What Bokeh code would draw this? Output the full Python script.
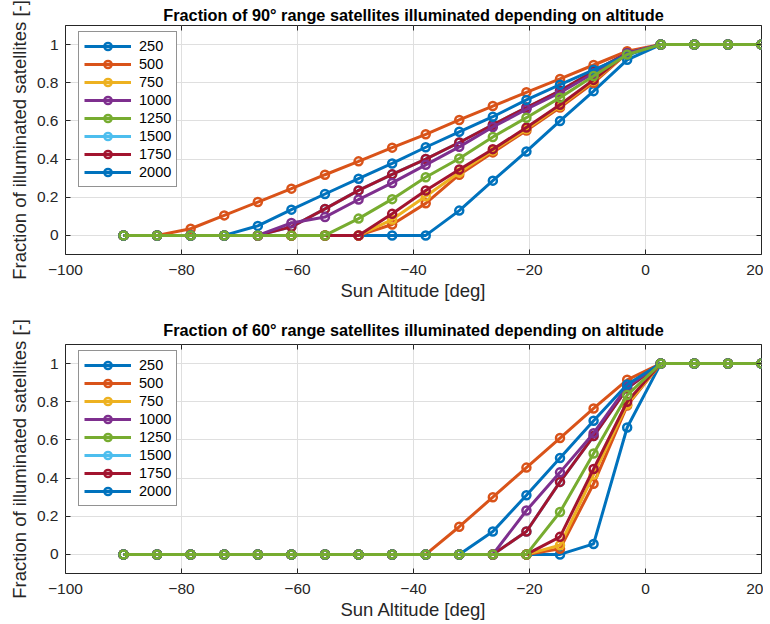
from bokeh.plotting import figure
from bokeh.models import Range1d, FixedTicker, LinearAxis, Legend, LegendItem
from bokeh.layouts import column
from bokeh.embed import file_html
from bokeh.resources import INLINE

# ---------------- data ----------------
sun_alt = [-90.0, -84.21, -78.42, -72.63, -66.84, -61.05, -55.26, -49.47, -43.68, -37.89,
           -32.11, -26.32, -20.53, -14.74, -8.95, -3.16, 2.63, 8.42, 14.21, 20.0]

altitudes = ["250", "500", "750", "1000", "1250", "1500", "1750", "2000"]
colors = ["#0072BD", "#D95319", "#EDB120", "#7E2F8E", "#77AC30", "#4DBEEE", "#A2142F", "#0072BD"]
# extra curves visible in the chart but not listed in its legend
extra_colors = ["#D95319", "#A2142F"]

x_ticks = [-100, -80, -60, -40, -20, 0, 20]
y_ticks = [0, 0.2, 0.4, 0.6, 0.8, 1]
y_tick_labels = ["0", "0.2", "0.4", "0.6", "0.8", "1"]

# 90 deg range
top_250 = [0, 0, 0, 0, 0, 0, 0, 0, 0, 0, 0.13, 0.287, 0.44, 0.60, 0.756, 0.92, 1, 1, 1, 1]
top_500 = [0, 0, 0.035, 0.105, 0.175, 0.245, 0.318, 0.388, 0.46, 0.53, 0.605, 0.678, 0.75, 0.82, 0.893, 0.965, 1, 1, 1, 1]
top_750 = [0, 0, 0, 0, 0, 0, 0, 0, 0.083, 0.205, 0.33, 0.445, 0.557, 0.678, 0.81, 0.955, 1, 1, 1, 1]
top_1000 = [0, 0, 0, 0, 0, 0.065, 0.096, 0.188, 0.275, 0.37, 0.464, 0.568, 0.661, 0.748, 0.85, 0.955, 1, 1, 1, 1]
top_1250 = [0, 0, 0, 0, 0, 0, 0, 0.088, 0.19, 0.305, 0.403, 0.516, 0.617, 0.722, 0.835, 0.948, 1, 1, 1, 1]
top_1500 = [0, 0, 0, 0, 0, 0.045, 0.139, 0.236, 0.32, 0.40, 0.487, 0.58, 0.67, 0.758, 0.86, 0.955, 1, 1, 1, 1]
top_1750 = [0, 0, 0, 0, 0, 0.045, 0.139, 0.236, 0.32, 0.40, 0.487, 0.58, 0.67, 0.758, 0.86, 0.955, 1, 1, 1, 1]
top_2000 = [0, 0, 0, 0, 0.05, 0.135, 0.217, 0.297, 0.377, 0.462, 0.543, 0.622, 0.71, 0.79, 0.868, 0.945, 1, 1, 1, 1]
top_extra_a = [0, 0, 0, 0, 0, 0, 0, 0, 0.057, 0.168, 0.318, 0.435, 0.55, 0.67, 0.80, 0.955, 1, 1, 1, 1]
top_extra_b = [0, 0, 0, 0, 0, 0, 0, 0, 0.113, 0.235, 0.345, 0.452, 0.565, 0.685, 0.815, 0.955, 1, 1, 1, 1]

# 60 deg range
bot_250 = [0, 0, 0, 0, 0, 0, 0, 0, 0, 0, 0, 0, 0, 0, 0.055, 0.665, 1, 1, 1, 1]
bot_500 = [0, 0, 0, 0, 0, 0, 0, 0, 0, 0, 0.145, 0.30, 0.455, 0.61, 0.765, 0.915, 1, 1, 1, 1]
bot_750 = [0, 0, 0, 0, 0, 0, 0, 0, 0, 0, 0, 0, 0, 0.048, 0.418, 0.786, 1, 1, 1, 1]
bot_1000 = [0, 0, 0, 0, 0, 0, 0, 0, 0, 0, 0, 0, 0.23, 0.43, 0.635, 0.88, 1, 1, 1, 1]
bot_1250 = [0, 0, 0, 0, 0, 0, 0, 0, 0, 0, 0, 0, 0, 0.222, 0.529, 0.835, 1, 1, 1, 1]
bot_1500 = [0, 0, 0, 0, 0, 0, 0, 0, 0, 0, 0, 0, 0.12, 0.38, 0.62, 0.87, 1, 1, 1, 1]
bot_1750 = [0, 0, 0, 0, 0, 0, 0, 0, 0, 0, 0, 0, 0.12, 0.38, 0.62, 0.87, 1, 1, 1, 1]
bot_2000 = [0, 0, 0, 0, 0, 0, 0, 0, 0, 0, 0, 0.12, 0.31, 0.505, 0.70, 0.89, 1, 1, 1, 1]
bot_extra_a = [0, 0, 0, 0, 0, 0, 0, 0, 0, 0, 0, 0, 0, 0.03, 0.37, 0.78, 1, 1, 1, 1]
bot_extra_b = [0, 0, 0, 0, 0, 0, 0, 0, 0, 0, 0, 0, 0, 0.092, 0.448, 0.80, 1, 1, 1, 1]

top_series = [top_250, top_500, top_750, top_1000, top_1250, top_1500, top_1750, top_2000]
bot_series = [bot_250, bot_500, bot_750, bot_1000, bot_1250, bot_1500, bot_1750, bot_2000]
top_extra = [top_extra_a, top_extra_b]
bot_extra = [bot_extra_a, bot_extra_b]

FONT = "Liberation Sans"
AX_COLOR = "#262626"
GRID_COLOR = "#dfdfdf"


def add_curve(p, ys, color):
    r1 = p.line(sun_alt, ys, line_color=color, line_width=3)
    r2 = p.scatter(sun_alt, ys, marker="circle", size=8, fill_color=None,
                   line_color=color, line_width=2.5)
    return [r1, r2]


def make_fig(title, series, extra, height, border_top, border_bottom, title_standoff):
    p = figure(width=763, height=height, output_backend="svg", toolbar_location=None,
               x_range=Range1d(-100, 20), y_range=Range1d(-0.1, 1.1),
               min_border_left=65, min_border_right=2,
               min_border_top=border_top, min_border_bottom=border_bottom)
    p.title.text = title
    p.title.align = "center"
    p.title.text_font = FONT
    p.title.text_font_size = "16.3px"
    p.title.text_font_style = "bold"
    p.title.text_color = "#000000"
    p.title.standoff = title_standoff

    p.outline_line_color = AX_COLOR
    p.outline_line_width = 1
    p.outline_line_alpha = 1

    p.xaxis.ticker = FixedTicker(ticks=x_ticks)
    p.yaxis.ticker = FixedTicker(ticks=y_ticks)
    p.yaxis.major_label_overrides = {t: l for t, l in zip(y_ticks, y_tick_labels)}
    for ax in (p.xaxis[0], p.yaxis[0]):
        ax.axis_line_color = None
        ax.major_tick_in = 5
        ax.major_tick_out = 0
        ax.major_tick_line_color = AX_COLOR
        ax.minor_tick_line_color = None
        ax.major_label_text_font = FONT
        ax.major_label_text_font_size = "15.5px"
        ax.major_label_text_color = AX_COLOR
        ax.axis_label_text_font = FONT
        ax.axis_label_text_font_size = "18.5px"
        ax.axis_label_text_font_style = "normal"
        ax.axis_label_text_color = AX_COLOR
    p.xaxis.axis_label = "Sun Altitude [deg]"
    p.yaxis.axis_label = "Fraction of illuminated satellites [-]"
    p.xaxis.major_label_standoff = 10
    p.xaxis.axis_label_standoff = 2
    p.yaxis.major_label_standoff = 7
    p.yaxis.axis_label_standoff = 4

    # box ticks on right and top (no labels)
    for loc, ticks in (("right", y_ticks), ("above", x_ticks)):
        ax = LinearAxis(ticker=FixedTicker(ticks=ticks), axis_line_color=None,
                        major_tick_in=5, major_tick_out=0, major_tick_line_color=AX_COLOR,
                        minor_tick_line_color=None, major_label_text_font_size="1px",
                        major_label_text_color=None, major_label_standoff=0)
        p.add_layout(ax, loc)

    p.xgrid.grid_line_color = GRID_COLOR
    p.ygrid.grid_line_color = GRID_COLOR
    p.xgrid.ticker = FixedTicker(ticks=x_ticks)
    p.ygrid.ticker = FixedTicker(ticks=y_ticks)

    items = {}
    # drawing order: 250, 500, extra orange, 750, extra red, 1500, 1750, 1000, 2000, 1250 (green on top)
    items[0] = add_curve(p, series[0], colors[0])
    items[1] = add_curve(p, series[1], colors[1])
    add_curve(p, extra[0], extra_colors[0])
    items[2] = add_curve(p, series[2], colors[2])
    add_curve(p, extra[1], extra_colors[1])
    for i in (5, 6, 3, 7, 4):
        items[i] = add_curve(p, series[i], colors[i])

    legend = Legend(items=[LegendItem(label=altitudes[i], renderers=items[i]) for i in range(len(altitudes))],
                    location=(13, 67),
                    margin=0, padding=5, spacing=0, label_height=18, glyph_height=18,
                    glyph_width=47, label_standoff=8,
                    label_text_font=FONT, label_text_font_size="14.5px", label_text_color="#000000",
                    border_line_color=AX_COLOR, border_line_width=1,
                    background_fill_color="white", background_fill_alpha=1)
    p.add_layout(legend)
    return p


p1 = make_fig("Fraction of 90\u00b0 range satellites illuminated depending on altitude",
              top_series, top_extra, 312, 25, 58, 4)
p2 = make_fig("Fraction of 60\u00b0 range satellites illuminated depending on altitude",
              bot_series, bot_extra, 310, 31, 49, 12)

layout = column(p1, p2, spacing=0)
open("out.html", "w").write(file_html(layout, INLINE))
